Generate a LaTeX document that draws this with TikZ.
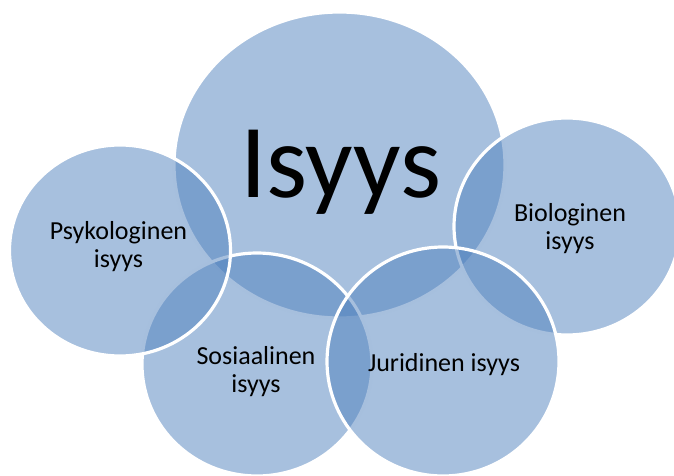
\documentclass[tikz,border=0pt]{standalone}
\usepackage{fontspec}
\setmainfont{Carlito}
\usetikzlibrary{shapes.geometric}
\definecolor{accent}{RGB}{79,129,189}
\tikzset{
	petal/.style={ellipse, fill=accent, fill opacity=0.5, draw=white, line width=3.2pt, inner sep=0pt},
	petaltext/.style={inner sep=0pt, align=center, font=\fontsize{26}{28}\selectfont}
}
\begin{document}
\begin{tikzpicture}[x=1pt, y=-1pt]
		\useasboundingbox (0,0) rectangle (674,476);
		% the five circles, the later ones on top
		\node[petal, minimum width=331pt, minimum height=306pt] (isyys) at (339.5,165) {};
		\node[petal, minimum width=226pt, minimum height=217pt] (bio) at (567,226.5) {};
		\node[petal, minimum width=230pt, minimum height=223pt] (sos) at (257,364.5) {};
		\node[petal, minimum width=221pt, minimum height=211pt] (psyk) at (120,250.5) {};
		\node[petal, minimum width=232pt, minimum height=229pt] (jur) at (443,361.5) {};
		% texts
		\node[inner sep=0pt, anchor=base, font=\fontsize{105}{110}\selectfont] (isyysteksti) at (341,197) {Isyys};
		\node[petaltext] (psykteksti) at (118.5,246.5) {Psykologinen\\isyys};
		\node[petaltext] (bioteksti) at (570,228.5) {Biologinen\\isyys};
		\node[petaltext] (sosteksti) at (256,371.5) {Sosiaalinen\\isyys};
		\node[petaltext] (jurteksti) at (444,364.5) {Juridinen isyys};
	%
	\end{tikzpicture}
\end{document}
